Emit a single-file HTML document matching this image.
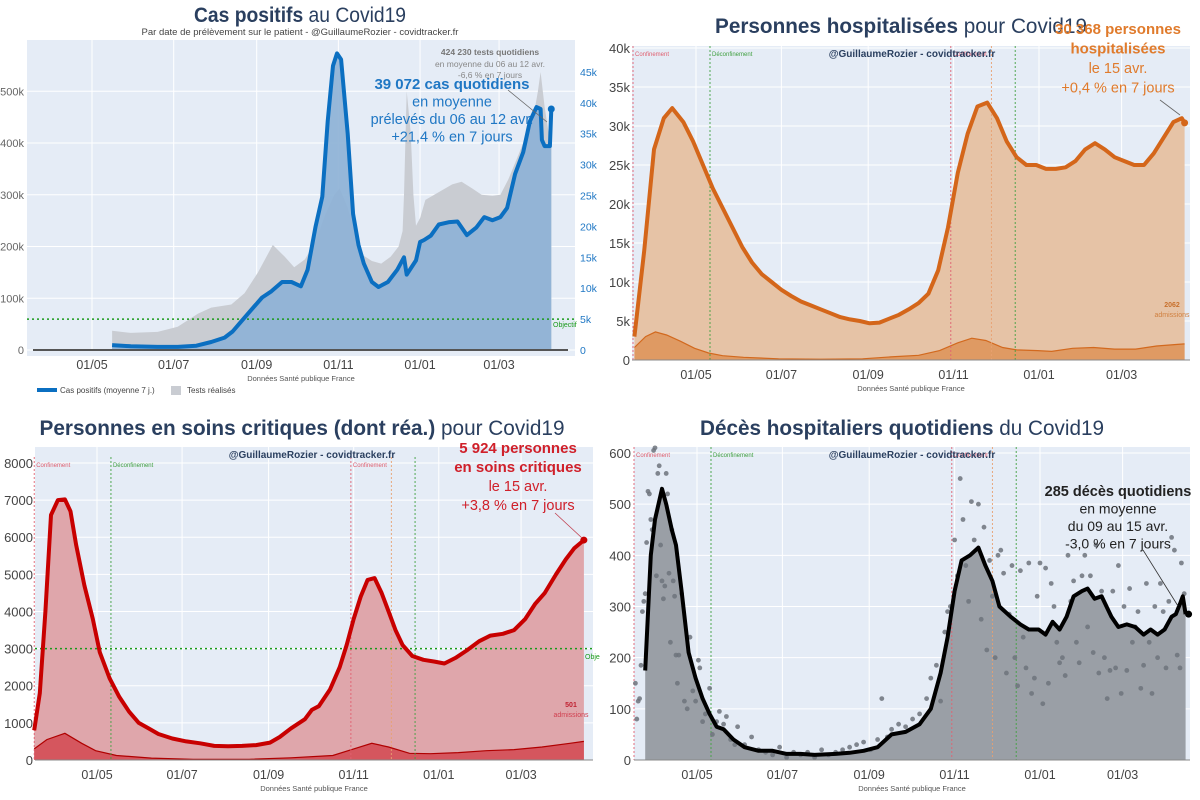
<!DOCTYPE html>
<html><head><meta charset="utf-8">
<style>
html,body{margin:0;padding:0;background:#fff;}
svg{display:block;font-family:"Liberation Sans",sans-serif;}
</style></head>
<body>
<svg id="root" width="1200" height="800" viewBox="0 0 1200 800">
  <text x="300" y="22" text-anchor="middle" font-size="21" fill="#2a3f5f" textLength="212" lengthAdjust="spacingAndGlyphs"><tspan font-weight="bold">Cas positifs</tspan> au Covid19</text>
  <text x="300" y="35" text-anchor="middle" font-size="9.5" fill="#444">Par date de prélèvement sur le patient - @GuillaumeRozier - covidtracker.fr</text>
  <text x="901" y="33" text-anchor="middle" font-size="21" fill="#2a3f5f" textLength="372" lengthAdjust="spacingAndGlyphs"><tspan font-weight="bold">Personnes hospitalisées</tspan> pour Covid19</text>
  <text x="302" y="435" text-anchor="middle" font-size="21" fill="#2a3f5f" textLength="525" lengthAdjust="spacingAndGlyphs"><tspan font-weight="bold">Personnes en soins critiques (dont réa.)</tspan> pour Covid19</text>
  <text x="902" y="435" text-anchor="middle" font-size="21" fill="#2a3f5f" textLength="404" lengthAdjust="spacingAndGlyphs"><tspan font-weight="bold">Décès hospitaliers quotidiens</tspan> du Covid19</text>
  <g id="layer"></g>
</svg>
<script>
const xTickDays = [61, 122, 184, 245, 306, 365];
const xTickLabels = ["01/05", "01/07", "01/09", "01/11", "01/01", "01/03"];

const casesDays = [76,90,110,125,139,150,160,166,172,180,188,195,203,210,217,222,228,233,237,241,244,247,252,256,260,264,270,275,282,289,294,296,303,306,309,314,320,328,334,341,348,354,360,366,371,377,383,388,393,396,397,399,403,404];
const casesValues = [0.8,0.6,0.5,0.5,0.7,1.3,2,3,4.5,6.5,8.5,9.5,11,11,10.3,13,20,24.8,37,46,48,47,35,22,17,14,11,10.2,11,13,15,12.2,14.5,17.5,17.8,18.5,20.3,20.7,20.8,18.6,19.8,21.5,21,21.5,23,28.5,32,37,39.3,39,34,33,33,39];
const testsDays = [76,90,110,125,140,150,165,175,185,196,205,212,220,228,235,242,246,252,258,264,270,277,284,290,293,294,296,299,301,303,306,310,320,330,337,345,352,360,366,372,380,386,390,394,396,399,402,404];
const testsValues = [37,33,35,45,70,82,88,110,150,203,180,160,175,210,260,300,312,275,220,182,172,167,180,200,230,300,500,420,300,240,255,290,305,320,325,312,300,298,300,330,380,420,440,500,537,470,420,390];
const casesLeftTicks = [0,100,200,300,400,500];
const casesRightTicks = [0,5,10,15,20,25,30,35,40,45];

const hospDays = [17,24,31,38,44,52,59,66,73,80,87,94,101,108,115,122,129,136,143,150,157,164,171,178,185,192,199,206,213,220,227,234,241,248,255,262,269,276,283,290,297,304,311,318,325,332,339,346,353,360,367,374,381,388,395,402,408,410];
const hospValues = [3,14,27,31,32.3,30.5,28,25,22,19.5,17,14.5,12.5,11,10,9,8.2,7.5,7,6.5,6,5.5,5.2,5,4.7,4.8,5.3,5.8,6.5,7.3,8.5,11.5,17,24,29,32.5,33,31,28,26,25,25,24.5,24.5,24.7,25.5,27,27.8,27,26,25.5,25,25,26.5,28.5,30.5,31,30.4];
const hospAdmDays = [17,25,32,40,50,60,70,80,95,120,150,180,200,220,235,248,258,268,280,290,305,315,330,345,360,375,390,405,410];
const hospAdmValues = [1.6,3,3.6,3.2,2.4,1.5,0.9,0.55,0.35,0.15,0.1,0.15,0.4,0.6,1.2,2.2,2.8,2.5,1.6,1.3,1.2,1.1,1.5,1.6,1.4,1.4,1.8,2.0,2.06];
const hospTicks = [0,5,10,15,20,25,30,35,40];

const icuDays = [16,20,24,28,33,38,42,46,52,58,63,70,77,84,91,98,105,115,125,135,145,155,165,175,185,192,200,210,215,220,228,235,240,245,250,255,260,265,270,275,280,287,295,303,310,318,326,335,343,352,360,368,375,382,390,397,403,410];
const icuValues = [800,1800,4000,6600,7000,7020,6700,5800,4700,3800,2900,2200,1700,1300,1000,850,700,580,500,450,380,370,380,400,470,620,850,1100,1350,1450,1900,2500,3100,3800,4400,4850,4900,4500,4000,3500,3100,2800,2700,2650,2600,2750,2950,3200,3350,3400,3500,3800,4200,4500,5000,5400,5700,5924];
const icuAdmDays = [16,25,38,50,60,75,100,130,170,200,230,245,258,270,285,300,320,340,360,380,400,410];
const icuAdmValues = [300,550,720,450,250,120,50,20,20,60,120,300,450,350,180,170,200,250,280,350,450,501];
const icuTicks = [0,1000,2000,3000,4000,5000,6000,7000,8000];

const deathDays = [24,28,31,36,39,43,46,50,55,60,65,70,75,80,87,95,105,115,125,135,145,160,170,180,190,200,210,220,228,235,240,245,250,256,262,267,272,277,285,292,298,305,310,315,320,325,330,336,340,345,350,357,362,368,374,380,385,390,395,400,403,406,408,410];
const deathValues = [175,400,470,530,500,450,420,330,210,160,120,90,65,60,40,25,18,18,12,12,10,12,14,18,25,50,55,70,100,170,240,330,390,400,415,380,350,300,280,265,255,255,245,270,255,280,320,330,335,315,320,280,260,265,260,245,255,245,255,280,285,305,320,285];
const deathDotDays = [17,18,19,20,21,22,23,24,25,26,27,28,29,30,31,32,33,34,35,36,37,38,39,40,41,42,43,44,45,46,47,48,50,52,54,56,58,60,62,63,65,67,70,72,75,77,80,82,85,88,90,95,100,105,110,115,120,125,130,135,140,145,150,155,160,165,170,175,180,185,190,193,197,200,205,210,215,220,225,228,232,235,238,240,242,245,247,249,251,253,255,257,259,262,264,266,268,270,272,274,276,278,280,282,284,286,288,290,292,294,296,298,300,302,304,306,308,310,312,314,316,318,320,322,324,326,328,330,332,334,336,338,340,342,344,346,348,350,352,354,356,358,360,362,364,366,368,370,372,374,376,378,380,382,384,386,388,390,392,394,396,398,400,402,404,406,407,409];
const deathDotValues = [150,80,115,120,185,290,310,325,425,525,520,470,450,605,610,360,560,575,420,350,315,340,560,520,365,230,450,350,320,205,150,205,325,115,100,240,135,115,195,180,75,90,140,50,75,95,70,85,40,30,65,30,45,20,15,10,25,5,15,10,15,5,20,10,15,20,25,30,35,20,40,120,45,60,70,65,80,90,120,160,185,115,250,290,300,430,360,550,470,380,310,505,430,500,275,455,215,390,320,200,400,410,365,170,285,380,200,145,370,240,180,385,130,160,320,385,110,375,150,345,300,230,190,200,165,400,310,350,230,190,360,400,260,360,210,420,170,330,200,120,175,330,180,380,130,300,175,335,230,260,290,140,185,345,230,130,300,200,345,290,180,310,435,410,205,180,385,325];
const deathTicks = [0,100,200,300,400,500,600];

const NS = "http://www.w3.org/2000/svg";
const layer = document.getElementById("layer");
function mk(tag, attrs, parent) {
  const e = document.createElementNS(NS, tag);
  for (const k in attrs) e.setAttribute(k, attrs[k]);
  (parent || layer).appendChild(e);
  return e;
}
function txt(str, attrs, parent) {
  const e = mk("text", attrs, parent);
  e.textContent = str;
  return e;
}
function linePath(days, vals, xf, yf) {
  return days.map((d, i) => (i ? "L" : "M") + xf(d).toFixed(1) + "," + yf(vals[i]).toFixed(1)).join("");
}
function areaPath(days, vals, xf, yf) {
  const y0 = yf(0);
  return linePath(days, vals, xf, yf) + "L" + xf(days[days.length - 1]).toFixed(1) + "," + y0 + "L" + xf(days[0]).toFixed(1) + "," + y0 + "Z";
}
function frame(x, y, w, h, zeroY, xf, yTicks, yf, tickFmt, labelX, name, labelSize, labelColor) {
  const g = mk("g", {});
  
  
  const bg = mk("rect", {x: x, y: y, width: w, height: h, fill: "#e5ecf6"}, g);
  
  
  yTicks.forEach(t => {
    const yy = yf(t);
    mk("line", {x1: x, x2: x + w, y1: yy, y2: yy, stroke: "#fff", "stroke-width": 1}, g);
    const tl = txt(tickFmt(t), {x: labelX, y: yy + labelSize * 0.38, "text-anchor": "end", "font-size": labelSize, fill: labelColor}, g);
    
    
  });
  xTickDays.forEach((d, i) => {
    const xx = xf(d);
    mk("line", {x1: xx, x2: xx, y1: y, y2: zeroY, stroke: "#fff", "stroke-width": 1}, g);
    const tl = txt(xTickLabels[i], {x: xx, y: zeroY + 19, "text-anchor": "middle", "font-size": 12.5, fill: "#444"}, g);
    
    
  });
  const src = txt("Données Santé publique France", {x: x + w / 2, y: zeroY + 31, "text-anchor": "middle", "font-size": 7.5, fill: "#555"}, g);
  
  
  return g;
}
function vlines(xf, y1, y2, name) {
  const specs = [[16, "#e06070", "Confinement"], [71, "#40a040", "Déconfinement"], [243, "#e06070", "Confinement"], [272, "#e8a070", ""], [289, "#40a040", ""]];
  specs.forEach(s => {
    const l = mk("line", {x1: xf(s[0]), x2: xf(s[0]), y1: y1, y2: y2, stroke: s[1], "stroke-width": 0.9, "stroke-dasharray": "2,2"});
    
    
    if (s[2]) {
      const t = txt(s[2], {x: xf(s[0]) + 2, y: y1 + 10, "font-size": 6, fill: s[1]});
      
      
    }
  });
}
function watermark(x, y) {
  const t = txt("@GuillaumeRozier - covidtracker.fr", {x: x, y: y, "text-anchor": "middle", "font-size": 10, "font-weight": "bold", fill: "#2a3f5f"});
  
  
}
function lines(strs, cx, y0, dy, attrsFn, name) {
  strs.forEach((s, i) => {
    const t = txt(s, Object.assign({x: cx, y: y0 + i * dy, "text-anchor": "middle"}, attrsFn(i)));
    
    
  });
}

// PANEL 1
const x1 = d => 92 + (d - 61) * 1.339;
const y1L = v => 350 - v * 0.5176;
const y1R = v => 350 - v * 6.18;
frame(27, 40, 548, 316, 350, x1, casesLeftTicks, y1L, t => t ? t + "k" : "0", 24, "cases", 11, "#666");
casesRightTicks.forEach(t => {
  const tl = txt(t ? t + "k" : "0", {x: 580, y: y1R(t) + 4, "font-size": 10.5, fill: "#1f77c4"});
  
  
});
const testsArea = mk("path", {d: areaPath(testsDays, testsValues, x1, y1L), fill: "#c9ccd2"});


const casesArea = mk("path", {d: areaPath(casesDays, casesValues, x1, y1R), fill: "#8eb2d6", "fill-opacity": 0.92});


const zero1 = mk("line", {x1: 33, x2: 568, y1: 350, y2: 350, stroke: "#555", "stroke-width": 2});


const obj1 = mk("line", {x1: 27, x2: 575, y1: y1R(5), y2: y1R(5), stroke: "#1a9a1a", "stroke-width": 1.5, "stroke-dasharray": "2,3"});


const objT1 = txt("Objectif", {x: 553, y: 327, "font-size": 7, fill: "#1a9a1a"});


const casesLine = mk("path", {d: linePath(casesDays, casesValues, x1, y1R), fill: "none", stroke: "#0b6fc1", "stroke-width": 4, "stroke-linejoin": "round"});


const lastC = casesDays.length - 1;
const cdot = mk("circle", {cx: x1(casesDays[lastC]), cy: y1R(casesValues[lastC]), r: 3.5, fill: "#0b6fc1"});


mk("line", {x1: 508, y1: 90, x2: 547, y2: 122, stroke: "#666", "stroke-width": 0.8});
lines(["424 230 tests quotidiens"], 490, 55, 11, () => ({"font-size": 8.5, "font-weight": "bold", fill: "#777"}), "tests-annotation");
lines(["en moyenne du 06 au 12 avr.", "-6,6 % en 7 jours"], 490, 67, 11, () => ({"font-size": 8.5, fill: "#888"}), "tests-annotation");
lines(["39 072 cas quotidiens", "en moyenne", "prélevés du 06 au 12 avr.", "+21,4 % en 7 jours"], 452, 89, 17.5, i => (i === 0 ? {"font-size": 15, "font-weight": "bold", fill: "#1f77c4"} : {"font-size": 14.5, fill: "#1f77c4"}), "cases-annotation");
const lg = mk("g", {});


mk("rect", {x: 37, y: 388, width: 20, height: 4, fill: "#0b6fc1"}, lg);
txt("Cas positifs (moyenne 7 j.)", {x: 60, y: 393, "font-size": 8, fill: "#444"}, lg);
mk("rect", {x: 171, y: 386, width: 10, height: 9, fill: "#c9ccd2"}, lg);
txt("Tests réalisés", {x: 187, y: 393, "font-size": 8, fill: "#444"}, lg);

// PANEL 2
const x2 = d => 696 + (d - 61) * 1.40;
const y2 = v => 360 - v * 7.8;
frame(632, 46, 558, 314, 360, x2, hospTicks, y2, t => t ? t + "k" : "0", 630, "hosp", 13, "#444");
const hospArea = mk("path", {d: areaPath(hospDays, hospValues, x2, y2), fill: "#e6c3a6"});


const hAdmA = mk("path", {d: areaPath(hospAdmDays, hospAdmValues, x2, y2), fill: "#df9a63"});


const hAdmL = mk("path", {d: linePath(hospAdmDays, hospAdmValues, x2, y2), fill: "none", stroke: "#d2691e", "stroke-width": 1.2});


vlines(x2, 46, 360, "hosp");
mk("line", {x1: 632, x2: 1190, y1: 360, y2: 360, stroke: "#888", "stroke-width": 1});
const hospLine = mk("path", {d: linePath(hospDays, hospValues, x2, y2), fill: "none", stroke: "#d4661a", "stroke-width": 4, "stroke-linejoin": "round"});


const lastH = hospDays.length - 1;
const hdot = mk("circle", {cx: x2(hospDays[lastH]), cy: y2(hospValues[lastH]), r: 3.5, fill: "#d4661a"});


watermark(912, 57);
mk("line", {x1: 1160, y1: 100, x2: 1180, y2: 115, stroke: "#666", "stroke-width": 0.8});
lines(["30 368 personnes", "hospitalisées", "le 15 avr.", "+0,4 % en 7 jours"], 1118, 34, 19.5, i => (i < 2 ? {"font-size": 15, "font-weight": "bold", fill: "#e07b2c"} : {"font-size": 14.5, fill: "#e07b2c"}), "hosp-annotation");
lines(["2062"], 1172, 307, 10, () => ({"font-size": 7, "font-weight": "bold", fill: "#c8702c"}), "hosp-admissions-annotation");
lines(["admissions"], 1172, 317, 10, () => ({"font-size": 7, fill: "#d08040"}), "hosp-admissions-annotation");

// PANEL 3
const x3 = d => 97 + (d - 61) * 1.395;
const y3 = v => 760 - v * 0.037125;
frame(35, 447, 558, 313, 760, x3, icuTicks, y3, t => String(t), 33, "icu", 13, "#444");
const icuArea = mk("path", {d: areaPath(icuDays, icuValues, x3, y3), fill: "#dfa6ab"});


const iAdmA = mk("path", {d: areaPath(icuAdmDays, icuAdmValues, x3, y3), fill: "#d5565e"});


const iAdmL = mk("path", {d: linePath(icuAdmDays, icuAdmValues, x3, y3), fill: "none", stroke: "#b00000", "stroke-width": 1.2});


vlines(x3, 457, 760, "icu");
mk("line", {x1: 35, x2: 593, y1: 760, y2: 760, stroke: "#888", "stroke-width": 1});
const obj3 = mk("line", {x1: 35, x2: 593, y1: y3(3000), y2: y3(3000), stroke: "#1a9a1a", "stroke-width": 1.5, "stroke-dasharray": "2,3"});


const objT3 = txt("Obje", {x: 585, y: 659, "font-size": 7, fill: "#1a9a1a"});


const icuLine = mk("path", {d: linePath(icuDays, icuValues, x3, y3), fill: "none", stroke: "#c80000", "stroke-width": 4, "stroke-linejoin": "round"});


const lastI = icuDays.length - 1;
const idot = mk("circle", {cx: x3(icuDays[lastI]), cy: y3(icuValues[lastI]), r: 3.5, fill: "#c80000"});


watermark(312, 458);
mk("line", {x1: 555, y1: 513, x2: 582, y2: 538, stroke: "#c04050", "stroke-width": 0.8});
lines(["5 924 personnes", "en soins critiques", "le 15 avr.", "+3,8 % en 7 jours"], 518, 453, 19, i => (i < 2 ? {"font-size": 15, "font-weight": "bold", fill: "#d0202a"} : {"font-size": 14.5, fill: "#d0202a"}), "icu-annotation");
lines(["501"], 571, 707, 10, () => ({"font-size": 7, "font-weight": "bold", fill: "#c02030"}), "icu-admissions-annotation");
lines(["admissions"], 571, 717, 10, () => ({"font-size": 7, fill: "#d04050"}), "icu-admissions-annotation");

// PANEL 4
const x4 = d => 697 + (d - 61) * 1.40;
const y4 = v => 760 - v * 0.5117;
frame(634, 447, 556, 313, 760, x4, deathTicks, y4, t => String(t), 631, "deaths", 13, "#444");
const deathArea = mk("path", {d: areaPath(deathDays, deathValues, x4, y4), fill: "#9a9fa6"});


vlines(x4, 447, 760, "deaths");
const dotsG = mk("g", {fill: "#6d737b", "fill-opacity": 0.85});


deathDotDays.forEach((d, i) => {
  const c = mk("circle", {cx: x4(d), cy: y4(deathDotValues[i]), r: 2.4}, dotsG);
  
  
});
mk("line", {x1: 634, x2: 1190, y1: 760, y2: 760, stroke: "#888", "stroke-width": 1});
const deathLine = mk("path", {d: linePath(deathDays, deathValues, x4, y4), fill: "none", stroke: "#000", "stroke-width": 4, "stroke-linejoin": "round"});


const lastD = deathDays.length - 1;
const ddot = mk("circle", {cx: x4(deathDays[lastD]) + 3, cy: y4(deathValues[lastD]), r: 3.5, fill: "#000"});


watermark(912, 458);
mk("line", {x1: 1143, y1: 550, x2: 1178, y2: 606, stroke: "#333", "stroke-width": 0.8});
lines(["285 décès quotidiens", "en moyenne", "du 09 au 15 avr.", "-3,0 % en 7 jours"], 1118, 496, 17.5, i => (i === 0 ? {"font-size": 14.5, "font-weight": "bold", fill: "#222"} : {"font-size": 14, fill: "#222"}), "deaths-annotation");
</script>
</body></html>
